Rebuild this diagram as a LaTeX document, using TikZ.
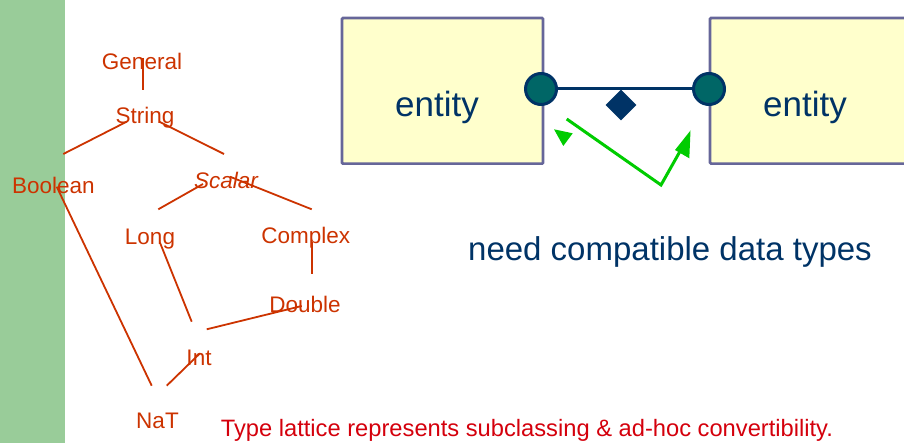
\documentclass[tikz,border=0pt]{standalone}
\usepackage{fontspec}
\setmainfont{Liberation Sans}
\usetikzlibrary{shapes.geometric}

\definecolor{barGreen}{RGB}{153,204,153}
\definecolor{latticeRed}{RGB}{204,51,0}
\definecolor{captionRed}{RGB}{212,0,12}
\definecolor{navyBlue}{RGB}{0,51,102}
\definecolor{portTeal}{RGB}{0,102,102}
\definecolor{boxFill}{RGB}{255,255,204}
\definecolor{boxEdge}{RGB}{102,102,153}
\definecolor{arrowGreen}{RGB}{0,204,0}

\begin{document}
\begin{tikzpicture}[x=1pt,y=-1pt,
  typename/.style={text=latticeRed, font=\fontsize{22.5}{27}\selectfont, anchor=base, inner sep=0pt},
  subtype/.style={draw=latticeRed, line width=1.8pt},
  entitybox/.style={draw=boxEdge, fill=boxFill, line width=2.7pt, rounded corners=1pt,
    minimum width=201pt, minimum height=145.6pt, inner sep=0pt, anchor=north west},
  entitytext/.style={text=navyBlue, font=\fontsize{35}{42}\selectfont, anchor=base, inner sep=0pt},
  port/.style={circle, draw=navyBlue, fill=portTeal, line width=3pt, minimum size=31pt, inner sep=0pt},
  rolemark/.style={diamond, fill=navyBlue, minimum size=31pt, inner sep=0pt},
  hint/.style={draw=arrowGreen, line width=3pt},
]
\clip (0,0) rectangle (904,443);

% side bar
\fill[barGreen] (0,0) rectangle (65,443);

% type lattice
\node[typename] (General) at (142,69.3) {General};
\node[typename] (String)  at (145,124) {String};
\node[typename] (Boolean) at (53.3,193.3) {Boolean};
\node[typename, font=\fontsize{22.5}{27}\selectfont\itshape] (Scalar) at (226,188.3) {Scalar};
\node[typename] (Long)    at (150,244.3) {Long};
\node[typename] (Complex) at (305.8,244) {Complex};
\node[typename] (Double)  at (305,312.3) {Double};
\node[typename] (Int)     at (199,365) {Int};
\node[typename] (NaT)     at (157.5,428.3) {NaT};

\draw[subtype] ([shift={(1.3,-11.3)}]General.base) -- ([shift={(-1.7,-34)}]String.base);
\draw[subtype] ([shift={(-18.3,-2.3)}]String.base) -- ([shift={(10,-39.3)}]Boolean.base);
\draw[subtype] ([shift={(14.3,-2.3)}]String.base) -- ([shift={(-2,-34.3)}]Scalar.base);
\draw[subtype] ([shift={(-23,-4.3)}]Scalar.base) -- ([shift={(8.3,-35)}]Long.base);
\draw[subtype] ([shift={(4,-11.6)}]Scalar.base) -- ([shift={(5.9,-34.7)}]Complex.base);
\draw[subtype] ([shift={(3.4,-6.6)}]Boolean.base) -- ([shift={(-5.8,-42.6)}]NaT.base);
\draw[subtype] ([shift={(10,-1.6)}]Long.base) -- ([shift={(-7.3,-43.3)}]Int.base);
\draw[subtype] ([shift={(5.9,-2.3)}]Complex.base) -- ([shift={(6.7,-38.3)}]Double.base);
\draw[subtype] ([shift={(-3.3,-6.3)}]Double.base) -- ([shift={(7.7,-35.7)}]Int.base);
\draw[subtype] ([shift={(1,-11.7)}]Int.base) -- ([shift={(9.2,-42.6)}]NaT.base);

% entities and relationship
\node[entitybox] (leftEntity)  at (340.7,16.7) {};
\node[entitybox] (rightEntity) at (708.7,16.7) {};
\node[entitytext] (leftLabel)  at (437,117) {entity};
\node[entitytext] (rightLabel) at (805,117) {entity};

\node[port] (leftPort)  at (541,89) {};
\node[port] (rightPort) at (709,89) {};
\draw[navyBlue, line width=3pt] (leftPort) -- (rightPort);
\node[rolemark] (role) at (621,105) {};

% compatibility hint
\coordinate (hintStart) at (566.7,119);
\coordinate (hintBend)  at (661,185);
\coordinate (hintEnd)   at (683,146);
\draw[hint] (hintStart) -- (hintBend) -- (hintEnd);
\fill[arrowGreen] (554,129.3) -- (572.7,133.3) -- (563.3,146) -- cycle;
\fill[arrowGreen] (690.5,130.5) -- (675,150) -- (689.3,158.3) -- cycle;

\node[text=navyBlue, font=\fontsize{33}{40}\selectfont, anchor=base, inner sep=0pt] (need) at (670,260.7) {need compatible data types};

\node[text=captionRed, font=\fontsize{23.7}{28}\selectfont, anchor=base west, inner sep=0pt] (caption) at (220.7,436.7) {Type lattice represents subclassing \& ad-hoc convertibility.};
\end{tikzpicture}
\end{document}
